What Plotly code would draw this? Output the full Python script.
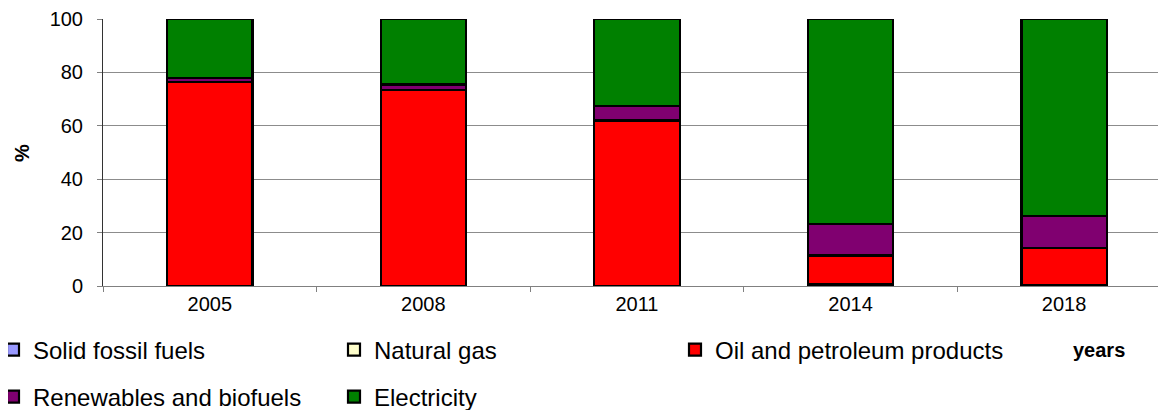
import plotly.graph_objects as go

years = ["2005", "2008", "2011", "2014", "2018"]
solid_fossil = [0, 0, 0, 0.8, 0.3]
natural_gas = [0, 0, 0, 0, 0]
oil_petroleum = [76.5, 73.5, 62, 10.6, 13.8]
renewables = [1.5, 2, 5.5, 11.8, 12.1]
electricity = [22, 24.5, 32.5, 76.8, 73.8]

series = [
    ("Solid fossil fuels", solid_fossil, "#9999FF", "legend"),
    ("Natural gas", natural_gas, "#FFFFCC", "legend"),
    ("Oil and petroleum products", oil_petroleum, "#FF0000", "legend"),
    ("Renewables and biofuels", renewables, "#800070", "legend2"),
    ("Electricity", electricity, "#008000", "legend2"),
]

# page has an 8px body margin, so the figure is sized/offset to compensate
OFF = 8
W, H = 1158, 402
L, T, B = 95, 11, 124
PW = W - L
PH = H - T - B

fig = go.Figure()
for name, vals, color, lg in series:
    fig.add_trace(go.Bar(
        x=years, y=vals, name=name, legend=lg,
        marker=dict(color=color, line=dict(color="black", width=2.2)),
        width=0.4,
    ))

font_family = "Liberation Sans, Arial, sans-serif"

def px_x(p):
    return (p - OFF - L) / PW

def px_y(p):
    return (OFF + H - B - p) / PH

legend_common = dict(
    orientation="h", xanchor="left", yanchor="middle",
    entrywidth=296, entrywidthmode="pixels", traceorder="normal",
    font=dict(size=24, family=font_family, color="black"),
    bgcolor="rgba(0,0,0,0)",
)

fig.update_layout(
    width=W, height=H,
    barmode="stack",
    plot_bgcolor="white", paper_bgcolor="white",
    margin=dict(l=L, r=0, t=T, b=B, autoexpand=False),
    font=dict(family=font_family, color="black"),
    showlegend=True,
    legend=dict(x=px_x(-7), y=px_y(350), **legend_common),
    legend2=dict(x=px_x(-7), y=px_y(397), **legend_common),
    xaxis=dict(
        type="category", range=[-0.5, 4.477],
        showline=True, linecolor="#808080", linewidth=1,
        ticks="outside", tickson="boundaries", ticklen=5, tickcolor="#808080",
        tickfont=dict(size=20, family=font_family, color="black"),
        showgrid=False, zeroline=False,
    ),
    yaxis=dict(
        range=[0, 100], tickvals=[0, 20, 40, 60, 80, 100],
        showline=True, linecolor="#333333", linewidth=1,
        ticks="outside", ticklen=5, tickcolor="#808080",
        showgrid=True, gridcolor="#8c8c8c", gridwidth=1,
        zeroline=False, ticklabelstandoff=10,
        tickfont=dict(size=20, family=font_family, color="black"),
    ),
    annotations=[
        dict(text="<b>%</b>", xref="paper", yref="paper", x=px_x(22), y=px_y(153),
             xanchor="center", yanchor="middle",
             showarrow=False, textangle=-90, font=dict(size=20, family=font_family)),
        dict(text="<b>years</b>", xref="paper", yref="paper", x=px_x(1099), y=px_y(350),
             xanchor="center", yanchor="middle",
             showarrow=False, font=dict(size=20, family=font_family)),
    ],
)

fig.write_html("out.html")
